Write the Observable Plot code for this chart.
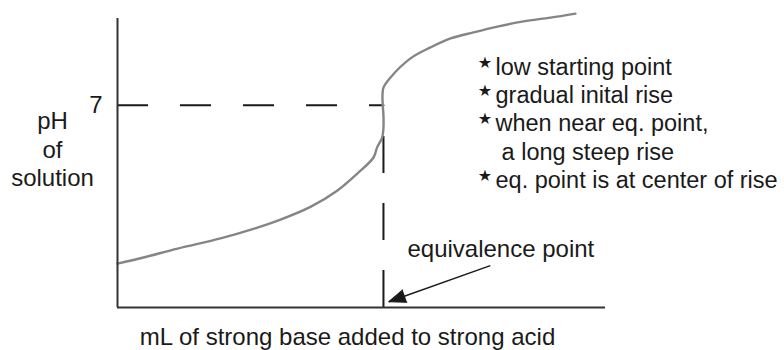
<!DOCTYPE html>
<html>
<head>
<meta charset="utf-8">
<script src="https://cdn.jsdelivr.net/npm/d3@7"></script>
<script src="https://cdn.jsdelivr.net/npm/@observablehq/plot@0.6"></script>
<style>
  html, body { margin: 0; padding: 0; background: #fff; }
  #chart svg { display: block; }
</style>
</head>
<body>
<div id="chart"></div>
<script>
// ---- data ----
const mLBase = [0, 2.66, 6.15, 10.55, 13.93, 16.70, 19.77, 22.54, 24.59, 26.23, 26.60, 27.12, 27.25, 27.25, 27.18, 27.15, 27.25, 27.97, 30.02, 32.07, 34.12, 36.48, 38.93, 41.60, 44.36, 46.92];
const pHValues = [1.52, 1.73, 2.04, 2.39, 2.72, 3.04, 3.48, 4.05, 4.64, 5.19, 5.54, 5.88, 6.23, 6.64, 6.99, 7.34, 7.61, 7.96, 8.62, 9.00, 9.31, 9.52, 9.72, 9.90, 10.03, 10.17];
const eqVolume = 27.25;      // mL at equivalence point
const neutralPH = 7;         // pH at equivalence
const yTicks = [7];
const xDomain = [0, 50];
const yDomain = [0, 10];

const yLabelLines = ["pH", "of", "solution"];
const yLabelX = -6.66;
const yLabelY = [6.19, 5.19, 4.22];

const xLabel = "mL of strong base added to strong acid";
const xLabelPos = [23.57, -1.31];

const notes = ["low starting point", "gradual inital rise", "when near eq. point,", "a long steep rise", "eq. point is at center of rise"];
const noteX = [38.73, 38.73, 38.73, 39.35, 38.73];
const noteY = [8.03, 7.06, 6.09, 5.12, 4.15];
const noteStar = [true, true, true, false, true];
const starX = 37.65;

const eqLabel = "equivalence point";
const eqLabelPos = [29.71, 1.76];
const arrowStart = [38.2, 1.45];
const arrowTip = [27.8, 0.2];

// ---- layout ----
const W = 784, H = 350;
const mL = 117, mR = 179, mT = 18, mB = 43;
const pxPerX = (W - mL - mR) / (xDomain[1] - xDomain[0]);
const pxPerY = (H - mT - mB) / (yDomain[1] - yDomain[0]);
const arrowAngle = Math.atan2((arrowTip[0] - arrowStart[0]) * pxPerX, (arrowTip[1] - arrowStart[1]) * pxPerY) * 180 / Math.PI;

const curve = mLBase.map((x, i) => ({x, y: pHValues[i]}));
const noteRows = notes.map((t, i) => ({t, x: noteX[i], y: noteY[i], star: noteStar[i]}));
const font = "'Liberation Sans', Arial, sans-serif";
const ink = "#1a1a1a";

const chart = Plot.plot({
  width: W, height: H,
  marginLeft: mL, marginRight: mR, marginTop: mT, marginBottom: mB,
  x: {domain: xDomain, axis: null},
  y: {domain: yDomain},
  style: {fontFamily: font, background: "#fff", color: ink},
  marks: [
    // dashed guides
    Plot.ruleY([neutralPH], {x1: 0, x2: eqVolume, stroke: ink, strokeWidth: 2, strokeDasharray: "31,32"}),
    Plot.ruleX([eqVolume], {y1: 0, y2: neutralPH, stroke: ink, strokeWidth: 2, strokeDasharray: "37,30"}),
    // titration curve
    Plot.line(curve, {x: "x", y: "y", curve: "catmull-rom", stroke: "#858585", strokeWidth: 2.4}),
    // axes
    Plot.ruleX([0], {y1: yDomain[0], y2: yDomain[1], stroke: "#333", strokeWidth: 2}),
    Plot.ruleY([0], {x1: xDomain[0], x2: xDomain[1], stroke: "#333", strokeWidth: 2}),
    Plot.axisY(yTicks, {tickSize: 0, tickPadding: 15, fontSize: 24, label: null}),
    // y label
    Plot.text(yLabelLines, {x: yLabelX, y: (d, i) => yLabelY[i], text: d => d, lineAnchor: "bottom", textAnchor: "middle", fontSize: 24}),
    // x label
    Plot.text([xLabel], {x: xLabelPos[0], y: xLabelPos[1], text: d => d, lineAnchor: "bottom", textAnchor: "middle", fontSize: 24}),
    // notes
    Plot.text(noteRows, {x: "x", y: "y", text: "t", lineAnchor: "bottom", textAnchor: "start", fontSize: 23.5}),
    Plot.text(noteRows.filter(d => d.star), {x: starX, y: d => d.y, text: () => "★", lineAnchor: "bottom", textAnchor: "middle", fontSize: 16, dy: -7, fontFamily: "DejaVu Sans"}),
    // equivalence point annotation
    Plot.text([eqLabel], {x: eqLabelPos[0], y: eqLabelPos[1], text: d => d, lineAnchor: "bottom", textAnchor: "start", fontSize: 24}),
    Plot.link([0], {x1: arrowStart[0], y1: arrowStart[1], x2: arrowTip[0], y2: arrowTip[1], stroke: ink, strokeWidth: 1.5}),
    Plot.vector([0], {x: arrowTip[0], y: arrowTip[1], rotate: arrowAngle, length: 17, r: 6.5, shape: "spike", anchor: "end", fill: ink, stroke: ink, strokeWidth: 1})
  ]
});
document.getElementById("chart").appendChild(chart);
</script>
</body>
</html>
